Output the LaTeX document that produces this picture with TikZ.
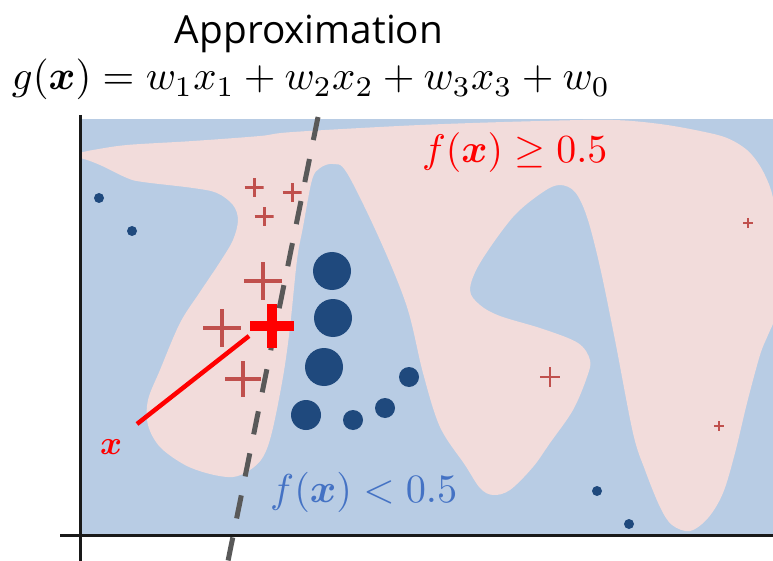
\documentclass[tikz,border=0pt]{standalone}
\usepackage[no-math]{fontspec}
\usepackage{amsmath}
\usepackage{graphicx}
\newfontfamily\titlefont{Open Sans}
\definecolor{bgblue}{HTML}{B8CCE4}
\definecolor{pinkreg}{HTML}{F2DCDB}
\definecolor{dotblue}{HTML}{1F497D}
\definecolor{crossred}{HTML}{C0504D}
\definecolor{txtblue}{HTML}{4472C4}
\definecolor{dashgrey}{HTML}{595959}
\begin{document}
\begin{tikzpicture}[x=1pt,y=-1pt,
  dotnode/.style={circle, fill=dotblue, inner sep=0pt, minimum size=#1},
  plusmark/.style={rectangle, inner sep=0pt, minimum size=#1,
    path picture={\draw (path picture bounding box.west) -- (path picture bounding box.east)
      (path picture bounding box.north) -- (path picture bounding box.south);}},
  axisline/.style={line width=3pt, black!90},
  dashline/.style={line width=5pt, dashgrey, dash pattern=on 23.5pt off 19.4pt},
  pointer/.style={line width=4.5pt, red},
  lbl/.style={inner sep=0pt}
]
\useasboundingbox (0,0) rectangle (773,561);
% background
\fill[bgblue] (80,119) rectangle (773,535);
\begin{scope}
\clip (80,119) rectangle (773,535);
\fill[pinkreg] plot[smooth cycle, tension=0.55] coordinates {
(60,154) (80,152.5) (93,150) (127,145) (193,141) (260,136) (293,132) (420,125)
(540,121) (613,120) (660,124) (700,131) (727,138) (747,150) (760,166) (770,187)
(776,210) (790,260) (776,315) (768,335) (760,355) (747,403) (735,453) (723,493)
(708,518) (690,531) (672,525) (660,507) (645,470) (633,433) (615,340) (600,267)
(587,217) (575,192) (560,185) (543,192) (513,217) (480,263) (470,290) (480,305)
(500,316) (543,329) (578,343) (590,360) (587,377) (573,410) (550,443) (533,467)
(510,490) (493,495) (480,488) (465,465) (440,427) (423,373) (407,307) (380,240)
(347,173) (333,164) (320,168) (312,180) (303,227) (297,260) (290,327) (283,377)
(272,432) (263,457) (250,470) (233,477) (210,474) (185,465) (160,447) (148,425)
(148,400) (160,370) (180,323) (200,292) (220,262) (233,240) (238,220) (233,205)
(217,193) (193,188) (143,182) (127,178) (100,165) (80,158) (60,157)};
\end{scope}
% axes
\coordinate (ytop) at (80,115);
\coordinate (ybot) at (80,561);
\coordinate (xleft) at (60,535);
\coordinate (xright) at (773,535);
\draw[axisline] (ytop) -- (ybot);
\draw[axisline] (xleft) -- (xright);
% dots
\foreach \n/\x/\y/\d in {a/332/271/38, b/333/318/38, c/324/367/38, d/306/415/30,
  e/353/420/20, f/385/408/20, g/409/377/20, h/99/198/10, i/132/231/10,
  j/597/491/10, k/629/524/10}
  \node[dotnode=\d pt] (dot\n) at (\x,\y) {};
% crosses
\foreach \n/\x/\y/\s/\w in {a/254/188/19/3, b/292/193/19/3, c/264/217/19/3,
  d/263/281/38/4, e/222/328/38/4, f/243/379/36/4, g/550/377/20/2.5,
  h/748/223/10/1.5, i/719/426/10/1.5}
  \node[plusmark=\s pt, crossred, line width=\w pt] (cross\n) at (\x,\y) {};
% decision line
\coordinate (dtop) at (318,117);
\coordinate (dbot) at (228,561);
\draw[dashline] (dtop) -- (dbot);
% highlighted instance
\node[plusmark=44pt, red, line width=10pt] (xbig) at (272,326) {};
\node[lbl, red, anchor=base] (xlab) at (111,454) {\resizebox{22pt}{!}{$\boldsymbol{x}$}};
\coordinate (ptrA) at (137,424);
\coordinate (ptrB) at (249,336);
\draw[pointer] (ptrA) -- (ptrB);
% texts
\node[lbl, anchor=base] (title) at (309,44) {\resizebox{268pt}{!}{\titlefont\fontsize{38}{40}\selectfont Approximation}};
\node[lbl, anchor=base] (formula) at (311,90) {\resizebox{598pt}{!}{$g(\boldsymbol{x}) = w_1x_1 + w_2x_2 + w_3x_3 + w_0$}};
\node[lbl, anchor=base west, red] (fge) at (422,163) {\resizebox{185pt}{!}{$f(\boldsymbol{x}) \geq 0.5$}};
\node[lbl, anchor=base west, txtblue] (flt) at (270,502) {\resizebox{187pt}{!}{$f(\boldsymbol{x}) < 0.5$}};
\end{tikzpicture}
\end{document}
